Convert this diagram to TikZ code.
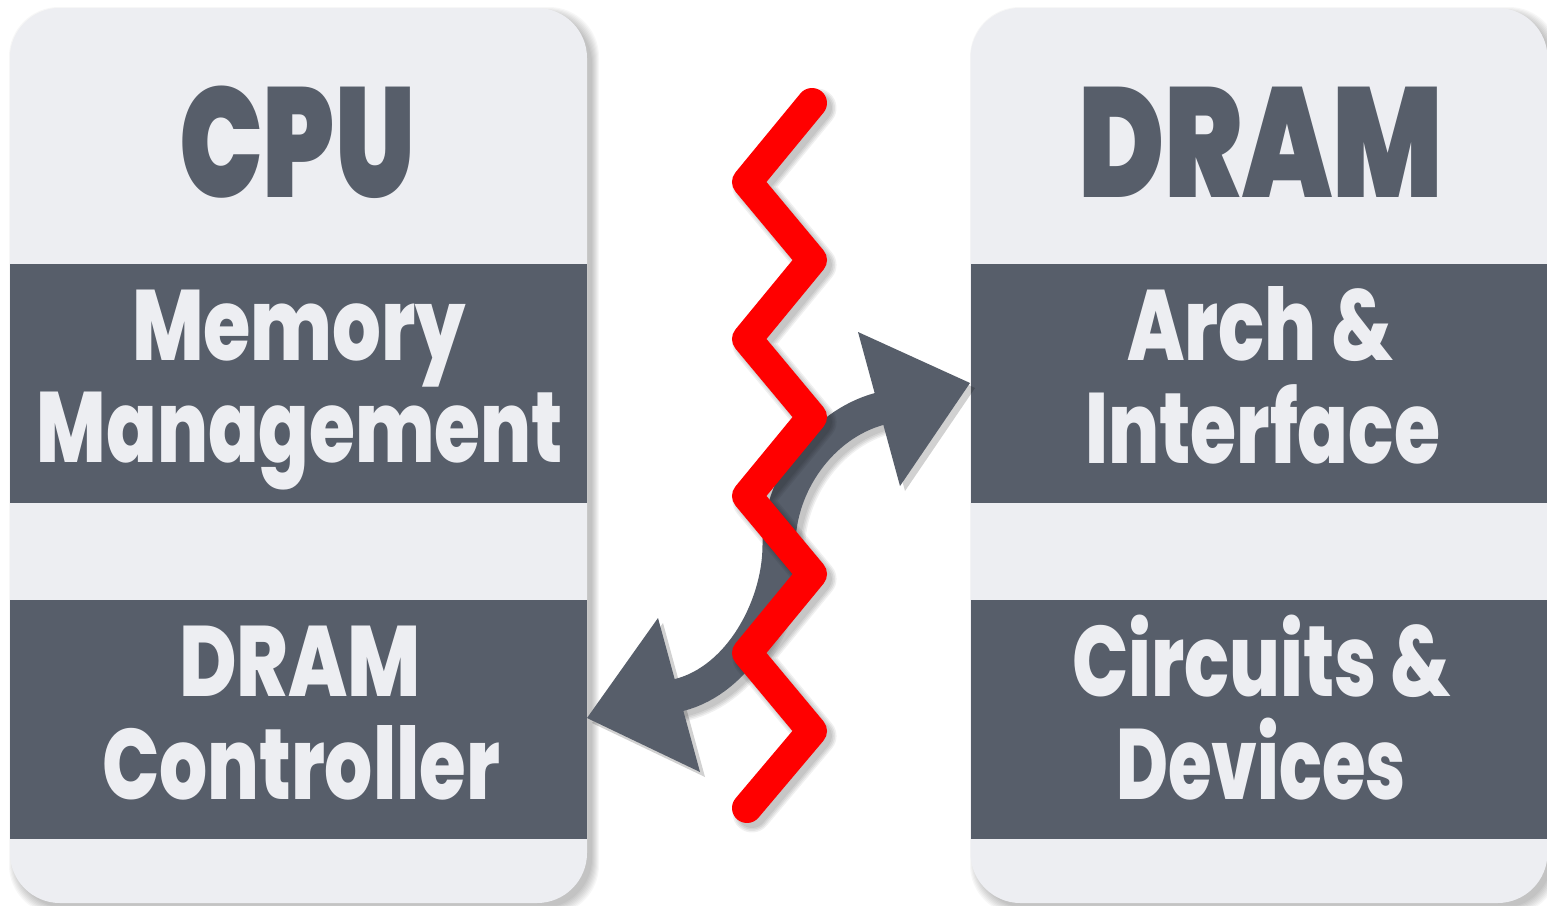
\documentclass[tikz,border=0pt]{standalone}
\usepackage{fontspec}
\usepackage{graphicx}
\newfontfamily\titlefont{Poppins Black}
\newfontfamily\bandfont{Poppins ExtraBold}
\definecolor{panelbg}{RGB}{237,238,242}
\definecolor{slate}{RGB}{87,94,106}
\definecolor{zig}{RGB}{255,0,0}
\newsavebox\fitbox
\newcommand\fitline[2]{\sbox\fitbox{#2}\pgfmathsetmacro\fitfac{#1*0.5/\the\wd\fitbox}\scalebox{\fitfac}[1]{\usebox\fitbox}}
\newcommand\softshadow[4]{\foreach \s in {0,...,7}{\fill[black, opacity=0.03, rounded corners=25pt] (#1+6-\s, #2+6-\s) rectangle (#3+5+\s, #4+5+\s);}}
\newcommand\drawzig[1]{\draw[#1] (z0) -- (z1) -- (z2) -- (z3) -- (z4) -- (z5) -- (z6) -- (z7) -- (z8) -- (z9);}
\newcommand\drawshaft[1]{\draw[#1] (lin) -- (lbase) .. controls (739,680) and (779,607) .. (amid) .. controls (779,485) and (821,425) .. (rbase) -- (rin);}
\newcommand\drawheads[1]{\fill[#1] (ltip) -- (lc1) -- (lc2) -- cycle; \fill[#1] (rtip) -- (rc1) -- (rc2) -- cycle;}
\tikzset{
  panel/.style={fill=panelbg, rounded corners=25pt, minimum width=288.5pt, minimum height=447.5pt, inner sep=0pt, draw=none},
  band/.style={fill=slate, minimum width=288.5pt, minimum height=119.5pt, inner sep=0pt, draw=none},
  title/.style={anchor=base, inner sep=0pt, text=slate, font=\titlefont\fontsize{78pt}{78pt}\selectfont},
  bandtext/.style={anchor=base, inner sep=0pt, text=panelbg, font=\bandfont\fontsize{50pt}{50pt}\selectfont},
  zigline/.style={draw=zig, line width=15pt, line cap=round, line join=round},
  shaft/.style={draw=slate, line width=16.5pt},
}
\begin{document}
\begin{tikzpicture}[x=0.5pt, y=-0.5pt]
\useasboundingbox (0,0) rectangle (1547,905);
\fill[white] (0,0) rectangle (1547,905);
% coordinates
\coordinate (z0) at (812,103);
\coordinate (z1) at (747,182);
\coordinate (z2) at (812,260);
\coordinate (z3) at (747,339);
\coordinate (z4) at (812,417);
\coordinate (z5) at (747,496);
\coordinate (z6) at (812,574);
\coordinate (z7) at (747,653);
\coordinate (z8) at (812,731);
\coordinate (z9) at (747,808);
\coordinate (ltip) at (587,718);
\coordinate (lc1) at (658,618);
\coordinate (lc2) at (700,772);
\coordinate (lbase) at (679,695);
\coordinate (lin) at (668,698);
\coordinate (rtip) at (970,383);
\coordinate (rc1) at (858,332);
\coordinate (rc2) at (900,486);
\coordinate (rbase) at (879,409);
\coordinate (rin) at (890,406);
\coordinate (amid) at (779,545);
% panel shadows
\softshadow{10}{8}{587}{903}
\softshadow{971}{8}{1547}{903}
% panels
\node[panel] (cpuP) at (298.5,455.5) {};
\node[panel] (dramP) at (1259,455.5) {};
\node[band] (cpuB1) at (298.5,383.5) {};
\node[band] (cpuB2) at (298.5,719.5) {};
\node[band] (dramB1) at (1259,383.5) {};
\node[band] (dramB2) at (1259,719.5) {};
% texts
\node[title] (cpuT) at (297,197) {\fitline{236}{CPU}};
\node[title] (dramT) at (1260.5,197) {\fitline{365}{DRAM}};
\node[bandtext] (mm1) at (299,360) {\fitline{334}{Memory}};
\node[bandtext] (mm2) at (300,462) {\fitline{526}{Management}};
\node[bandtext] (dc1) at (300,696) {\fitline{242}{DRAM}};
\node[bandtext] (dc2) at (301,799) {\fitline{398}{Controller}};
\node[bandtext] (ai1) at (1260,360) {\fitline{266}{Arch \&}};
\node[bandtext] (ai2) at (1262.5,463) {\fitline{355}{Interface}};
\node[bandtext] (cd1) at (1261.5,696) {\fitline{379}{Circuits \&}};
\node[bandtext] (cd2) at (1261,799) {\fitline{290}{Devices}};
% arrow shadow
\begin{scope}[transform canvas={shift={(2.5pt,-2.5pt)}}]
\foreach \w in {16.5,18,19.5,21}{\drawshaft{draw=black, opacity=0.06, line width=\w pt}}
\drawheads{black, opacity=0.18}
\end{scope}
% arrow
\drawshaft{shaft}
\drawheads{slate}
% zigzag shadow
\begin{scope}[transform canvas={shift={(2.5pt,-2.5pt)}}]
\foreach \w in {15,16.5,18,19.5}{\drawzig{draw=black, opacity=0.06, line width=\w pt, line cap=round, line join=round}}
\end{scope}
% zigzag
\drawzig{zigline}
\end{tikzpicture}
\end{document}
